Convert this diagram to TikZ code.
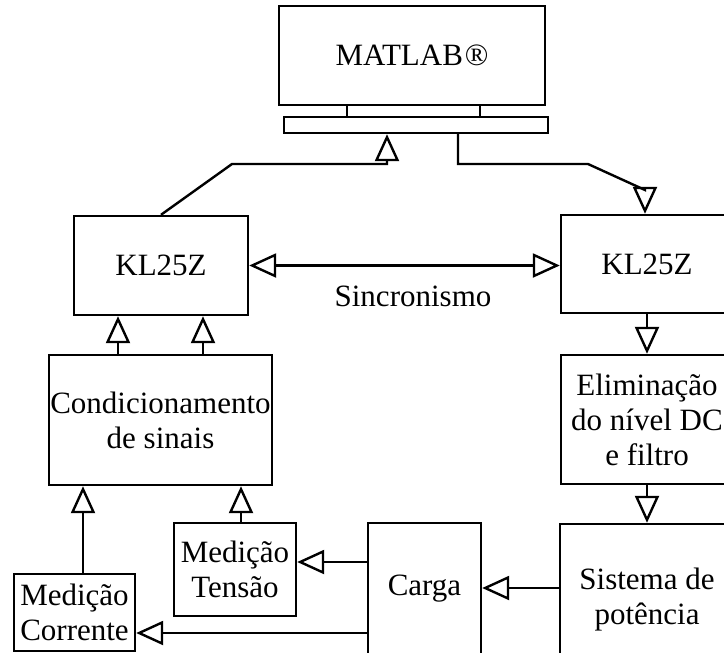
\documentclass[tikz,border=0pt]{standalone}
\usepackage{fontspec}
\setmainfont{Liberation Serif}
\usetikzlibrary{arrows.meta}
\tikzset{
  box/.style={draw, line width=2.4pt, inner sep=0pt, align=center, fill=white},
  lbl/.style={inner sep=0pt, align=center},
  conn/.style={line width=2.4pt, line join=miter},
  tip/.tip={Triangle[open, length=27pt, width=24pt, line width=2.4pt]},
  arr/.style={conn, -tip},
  darr/.style={conn, tip-tip},
}
\begin{document}
\begin{tikzpicture}[x=1pt, y=-1pt, every node/.style={font=\fontsize{31}{35}\selectfont}]
\useasboundingbox (0,0) rectangle (724,653);
\clip (0,0) rectangle (724,653);
% boxes
\node[box, minimum width=266pt, minimum height=99pt] (matlab) at (412,55.5) {MATLAB\hspace{2pt}®};
\node[box, minimum width=133pt, minimum height=12pt] (neck) at (413.5,111) {};
\node[box, minimum width=264pt, minimum height=16pt] (base) at (416,125) {};
\node[box, minimum width=174pt, minimum height=99pt] (kl1) at (161,265.5) {KL25Z};
\node[box, minimum width=172pt, minimum height=98pt] (kl2) at (647,264) {KL25Z};
\node[box, minimum width=223pt, minimum height=130pt] (cond) at (160.5,420) {Condicionamento\\de sinais};
\node[box, minimum width=172pt, minimum height=129pt] (elim) at (647,419.5) {Eliminação\\do nível DC\\e filtro};
\node[box, minimum width=174pt, minimum height=152pt] (sist) at (647,600) {Sistema de\\potência};
\node[box, minimum width=113pt, minimum height=132pt] (carga) at (424.5,589) {Carga};
\node[box, minimum width=122pt, minimum height=93pt] (tens) at (235,569.5) {Medição\\Tensão};
\node[box, minimum width=121pt, minimum height=77pt] (corr) at (74.5,612.5) {Medição\\Corrente};
\node[lbl] (sinc) at (413,296) {Sincronismo};
% helper coordinates
\coordinate (c1) at (232,164);
\coordinate (c2) at (387,164);
\coordinate (c4) at (458,164);
\coordinate (c5) at (588,164);
\coordinate (c6) at (645,190);
\coordinate (xa) at (118,0);
\coordinate (xb) at (203,0);
\coordinate (xc) at (83,0);
\coordinate (xd) at (241,0);
\coordinate (ys) at (0,588);
\coordinate (yt) at (0,562);
\coordinate (yc) at (0,633);
% connectors
\draw[arr] (kl1.north) -- (c1) -- (c2) -- (c2 |- base.south);
\draw[arr] (c4 |- base.south) -- (c4) -- (c5) -- (c6) -- (c6 |- kl2.north);
\draw[darr] (kl1.east) -- (kl1.east -| kl2.west);
\draw[arr] (cond.north -| xa) -- (kl1.south -| xa);
\draw[arr] (cond.north -| xb) -- (kl1.south -| xb);
\draw[arr] (kl2.south) -- (elim.north);
\draw[arr] (elim.south) -- (sist.north);
\draw[arr] (sist.west |- ys) -- (carga.east |- ys);
\draw[arr] (carga.west |- yt) -- (tens.east |- yt);
\draw[arr] (carga.west |- yc) -- (corr.east |- yc);
\draw[arr] (corr.north -| xc) -- (cond.south -| xc);
\draw[arr] (tens.north -| xd) -- (cond.south -| xd);
\end{tikzpicture}
\end{document}
